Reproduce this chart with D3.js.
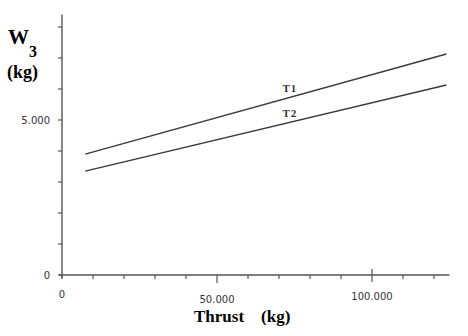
<!DOCTYPE html>
<html>
<head>
<meta charset="utf-8">
<script src="https://cdn.jsdelivr.net/npm/d3@7"></script>
<style>
  body { margin: 0; background: #fff; }
  svg { display: block; }
</style>
</head>
<body>
<div id="chart"></div>
<script>
// data
var seriesNames = ["T1", "T2"];
var thrust = [7500, 124000];
var t1Values = [3900, 7130];
var t2Values = [3350, 6130];
var xTicks = [0, 10000, 20000, 30000, 40000, 50000, 60000, 70000, 80000, 90000, 100000, 110000, 120000];
var yTicks = [0, 1000, 2000, 3000, 4000, 5000, 6000, 7000, 8000];
var xLabels = { 0: "0", 50000: "50.000", 100000: "100.000" };
var yLabels = { 0: "0", 5000: "5.000" };

var width = 468, height = 336;

var svg = d3.select("#chart")
  .append("svg")
  .attr("width", width)
  .attr("height", height);

var x = d3.scaleLinear().domain([0, 125000]).range([62, 449.5]);
var y = d3.scaleLinear().domain([0, 8400]).range([275, 14.6]);

var axisColor = "#555";
var lineColor = "#3a3a3a";

// axis lines
svg.append("line")
  .attr("x1", x(0)).attr("x2", x(0))
  .attr("y1", y(8400)).attr("y2", y(0) + 3)
  .attr("stroke", axisColor).attr("stroke-width", 1.4);

svg.append("line")
  .attr("x1", x(0) - 3).attr("x2", x(125000))
  .attr("y1", y(0)).attr("y2", y(0))
  .attr("stroke", axisColor).attr("stroke-width", 1.6);

// y ticks
svg.selectAll(".ytick")
  .data(yTicks)
  .enter()
  .append("line")
  .attr("x1", x(0) - 4)
  .attr("x2", x(0))
  .attr("y1", function (d) { return y(d); })
  .attr("y2", function (d) { return y(d); })
  .attr("stroke", axisColor)
  .attr("stroke-width", 1.2);

// x ticks (50.000 a bit longer, 100.000 crossing the axis)
svg.selectAll(".xtick")
  .data(xTicks)
  .enter()
  .append("line")
  .attr("x1", function (d) { return x(d); })
  .attr("x2", function (d) { return x(d); })
  .attr("y1", function (d) { return d === 100000 ? y(0) - 6 : y(0); })
  .attr("y2", function (d) {
    if (d === 50000) return y(0) + 8;
    if (d === 100000) return y(0) + 7;
    return y(0) + 4;
  })
  .attr("stroke", axisColor)
  .attr("stroke-width", 1.2);

// tick labels
svg.selectAll(".ylab")
  .data(yTicks.filter(function (d) { return yLabels[d] !== undefined; }))
  .enter()
  .append("text")
  .attr("x", x(0) - 12)
  .attr("y", function (d) { return y(d); })
  .attr("dy", "0.35em")
  .attr("text-anchor", "end")
  .style("font-family", "'DejaVu Sans', sans-serif")
  .style("font-size", "10px")
  .attr("fill", "#333")
  .text(function (d) { return yLabels[d]; });

svg.selectAll(".xlab")
  .data(xTicks.filter(function (d) { return xLabels[d] !== undefined; }))
  .enter()
  .append("text")
  .attr("x", function (d) { return x(d); })
  .attr("y", function (d) { return d === 0 ? 298 : (d === 50000 ? 303 : 300); })
  .attr("text-anchor", "middle")
  .style("font-family", "'DejaVu Sans', sans-serif")
  .style("font-size", "10px")
  .attr("fill", "#333")
  .text(function (d) { return xLabels[d]; });

// series lines
var line = d3.line()
  .x(function (d) { return x(d[0]); })
  .y(function (d) { return y(d[1]); });

var series = [t1Values, t2Values];
svg.selectAll(".series")
  .data(series)
  .enter()
  .append("path")
  .attr("fill", "none")
  .attr("stroke", lineColor)
  .attr("stroke-width", 1.4)
  .attr("d", function (vals) {
    return line(thrust.map(function (t, i) { return [t, vals[i]]; }));
  });

// series labels sitting above each line
var labelX = 73500;
svg.selectAll(".slab")
  .data(seriesNames)
  .enter()
  .append("text")
  .attr("x", x(labelX))
  .attr("y", function (d, i) {
    var v = series[i];
    var f = (labelX - thrust[0]) / (thrust[1] - thrust[0]);
    return y(v[0] + f * (v[1] - v[0])) - 5;
  })
  .attr("text-anchor", "middle")
  .style("font-family", "'Liberation Serif', serif")
  .style("font-weight", "bold")
  .style("font-size", "11px")
  .style("letter-spacing", "1px")
  .attr("fill", "#333")
  .text(function (d) { return d; });

// y axis title
var ytitle = svg.append("text")
  .style("font-family", "'Liberation Serif', serif")
  .style("font-weight", "bold")
  .attr("fill", "#000");
ytitle.append("tspan").attr("x", 8).attr("y", 44).style("font-size", "21px").text("W");
ytitle.append("tspan").attr("x", 29).attr("y", 57).style("font-size", "16px").text("3");

svg.append("text")
  .attr("x", 7)
  .attr("y", 78)
  .style("font-family", "'Liberation Serif', serif")
  .style("font-weight", "bold")
  .style("font-size", "18px")
  .attr("fill", "#000")
  .text("(kg)");

// x axis title
svg.append("text")
  .attr("x", 194)
  .attr("y", 322)
  .style("font-family", "'Liberation Serif', serif")
  .style("font-weight", "bold")
  .style("font-size", "17px")
  .attr("fill", "#000")
  .attr("xml:space", "preserve")
  .style("white-space", "pre")
  .text("Thrust    (kg)");
</script>
</body>
</html>
